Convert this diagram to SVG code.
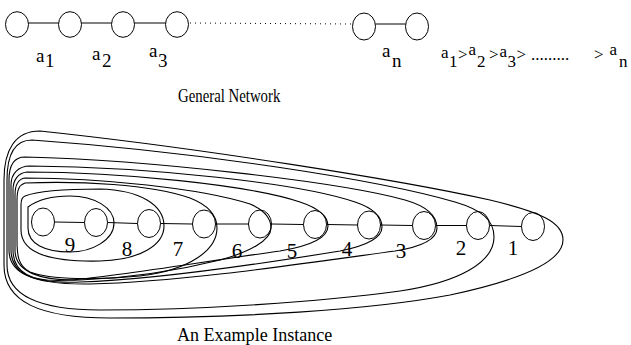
<svg xmlns="http://www.w3.org/2000/svg" width="631" height="345" viewBox="0 0 631 345">
<style>
.n{fill:none;stroke:#000;stroke-width:1}
.e{stroke:#000;stroke-width:1;fill:none}
.d{stroke:#000;stroke-width:1;stroke-dasharray:1 4;fill:none}
.lp{fill:none;stroke:#000;stroke-width:1.1}
.s{font-size:19px;fill:#000}
.f{font-size:17px;fill:#000}
.num{font-size:21px;text-anchor:middle;fill:#000}
</style>
<rect width="631" height="345" fill="#fff"/>
<g id="connectors">
<line class="e" x1="28.5" y1="23" x2="58.5" y2="23"/>
<line class="e" x1="81.5" y1="23" x2="111.5" y2="23"/>
<line class="e" x1="134.5" y1="23" x2="165.5" y2="23"/>
<line class="d" x1="190" y1="23" x2="352" y2="24"/>
<line class="e" x1="375.5" y1="24" x2="405.5" y2="24"/>
<line class="e" x1="54.5" y1="222" x2="84.5" y2="222.5"/>
<line class="e" x1="107.5" y1="222.5" x2="137.5" y2="223.5"/>
<line class="e" x1="160.5" y1="223.5" x2="192.5" y2="224"/>
<line class="e" x1="215.5" y1="224" x2="248.5" y2="224"/>
<line class="e" x1="271.5" y1="224" x2="303.5" y2="224.5"/>
<line class="e" x1="326.5" y1="224.5" x2="357.5" y2="225"/>
<line class="e" x1="380.5" y1="225" x2="412.5" y2="225.5"/>
<line class="e" x1="435.5" y1="225.5" x2="466.5" y2="225.5"/>
<line class="e" x1="489.5" y1="225.5" x2="521.5" y2="226.5"/>
</g>
<g id="top-nodes">
<g id="a1"><ellipse class="n" cx="17" cy="24.5" rx="11.5" ry="12.8"/></g>
<g id="a2"><ellipse class="n" cx="70" cy="24.5" rx="11.5" ry="12.8"/></g>
<g id="a3"><ellipse class="n" cx="123" cy="24.5" rx="11.5" ry="12.8"/></g>
<g id="a4"><ellipse class="n" cx="177" cy="24.5" rx="11.5" ry="12.8"/></g>
<g id="an1"><ellipse class="n" cx="364" cy="26.5" rx="11.5" ry="13.5"/></g>
<g id="an"><ellipse class="n" cx="417" cy="26.5" rx="11.5" ry="13.5"/></g>
</g>
<g id="bottom-nodes">
<g id="b1"><ellipse class="n" cx="43" cy="222" rx="11.5" ry="14"/></g>
<g id="b2"><ellipse class="n" cx="96" cy="222.5" rx="11.5" ry="14"/></g>
<g id="b3"><ellipse class="n" cx="149" cy="223.5" rx="11.5" ry="14"/></g>
<g id="b4"><ellipse class="n" cx="204" cy="224" rx="11.5" ry="14"/></g>
<g id="b5"><ellipse class="n" cx="260" cy="224" rx="11.5" ry="14"/></g>
<g id="b6"><ellipse class="n" cx="315" cy="224.5" rx="11.5" ry="14"/></g>
<g id="b7"><ellipse class="n" cx="369" cy="225" rx="11.5" ry="14"/></g>
<g id="b8"><ellipse class="n" cx="424" cy="225.5" rx="11.5" ry="14"/></g>
<g id="b9"><ellipse class="n" cx="478" cy="225.5" rx="11.5" ry="14"/></g>
<g id="b10"><ellipse class="n" cx="533" cy="226.5" rx="11.5" ry="14"/></g>
</g>
<g id="loops">
<path class="lp" d="M28,207 C40,198 55,196 70,196 C95,196 114,208 114,223 C114,240 92,252 70,252 C45,252 28,244 28,228 Z"/>
<path class="lp" d="M25,196 C40,190 70,189 100,189 C140,190 164,205 164,226 C164,245 140,260 100,261 C55,262 21,255 21,230 L21,205 C21,200 22,197 25,196 Z"/>
<path class="lp" d="M25,183 C80,181 150,184 190,198 C208,205 217,215 217,228 C217,250 190,270 140,276 C100,280 50,280 30,272 C18,266 17,255 17,240 L17,200 C17,190 19,185 25,183 Z"/>
<path class="lp" d="M25,178 C100,178 200,188 250,204 C264,210 271,218 271,228 C271,240 250,252 220,260 C180,270 130,278 80,280 C40,281 15,272 15,250 L15,195 C15,185 18,179 25,178 Z"/>
<path class="lp" d="M27,172 C120,172 250,185 300,202 C318,208 328,216 328,226 C328,238 310,246 280,251 C200,262 120,276 70,280 C30,283 13,272 13,250 L13,190 C13,180 18,173 27,172 Z"/>
<path class="lp" d="M30,166 C150,167 300,183 355,202 C373,208 382,217 382,227 C382,238 365,246 340,251 C260,264 150,280 80,282 C30,284 11,272 11,250 L11,185 C11,174 18,166 30,166 Z"/>
<path class="lp" d="M25,157 C150,160 340,182 405,200 C426,206 437,216 437,228 C437,240 420,247 395,251 C300,264 180,282 90,284 C30,285 9,272 9,250 L9,180 C9,166 14,157 25,157 Z"/>
<path class="lp" d="M32,140 C200,152 380,180 455,202 C482,210 494,220 494,237 C494,262 460,282 400,291 C320,302 200,310 100,310 C40,310 7,296 7,265 L7,180 C7,155 15,140 32,140 Z"/>
<path class="lp" d="M40,131 C200,148 400,180 490,200 C540,212 563,222 563,240 C563,262 520,280 450,295 C370,310 240,318 110,318 C40,318 4,302 4,265 L4,180 C4,150 15,131 40,131 Z"/>
</g>
<g id="labels" font-family="Liberation Serif, Times New Roman, serif">
<text class="s"><tspan x="36" y="62">a</tspan><tspan x="45" y="67">1</tspan></text>
<text class="s"><tspan x="92" y="60">a</tspan><tspan x="102" y="67">2</tspan></text>
<text class="s"><tspan x="149" y="57">a</tspan><tspan x="158" y="67">3</tspan></text>
<text class="s"><tspan x="382" y="57">a</tspan><tspan x="392" y="67">n</tspan></text>
<text class="f"><tspan x="441" y="58">a</tspan><tspan x="449" y="67">1</tspan><tspan x="458" y="60">&gt;</tspan><tspan x="468.5" y="55">a</tspan><tspan x="477" y="67">2</tspan><tspan x="489" y="60">&gt;</tspan><tspan x="499.5" y="57">a</tspan><tspan x="507.5" y="67">3</tspan><tspan x="516.5" y="60">&gt;</tspan><tspan x="531" y="60">.........</tspan><tspan x="594" y="60">&gt;</tspan><tspan x="609.5" y="55">a</tspan><tspan x="619" y="67">n</tspan></text>
<text class="s" transform="translate(178,102) scale(0.78,1)">General Network</text>
<text class="s" transform="translate(177,341) scale(0.95,1)">An Example Instance</text>
<text class="num" x="70" y="252">9</text>
<text class="num" x="127" y="256">8</text>
<text class="num" x="178" y="256">7</text>
<text class="num" x="237" y="258">6</text>
<text class="num" x="292" y="258">5</text>
<text class="num" x="347" y="256">4</text>
<text class="num" x="401" y="258">3</text>
<text class="num" x="461" y="255">2</text>
<text class="num" x="513" y="255">1</text>
</g>
</svg>
